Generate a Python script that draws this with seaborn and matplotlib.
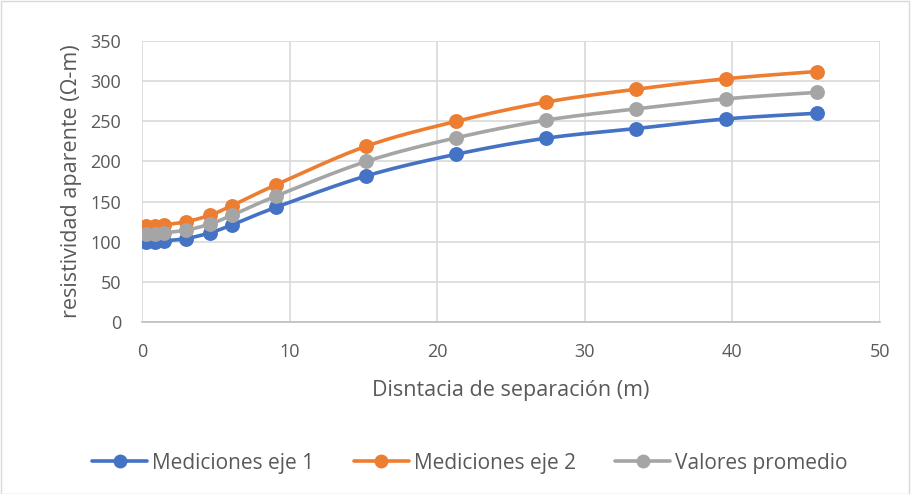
import numpy as np
import pandas as pd
import matplotlib
matplotlib.use("Agg")
import matplotlib.pyplot as plt
from matplotlib.lines import Line2D
import seaborn as sns

distancia = [0.3, 0.9, 1.5, 3.0, 4.6, 6.1, 9.1, 15.2, 21.3, 27.4, 33.5, 39.6, 45.7]
eje1 = [100, 100, 101, 104, 111, 121, 143, 182, 209, 229, 241, 253, 260]
eje2 = [120, 120, 121, 125, 133, 145, 171, 219, 250, 274, 290, 303, 312]
promedio = [110, 110, 111, 114.5, 122, 133, 157, 200, 229.5, 251.5, 265.5, 278, 286]
series_names = ["Mediciones eje 1", "Mediciones eje 2", "Valores promedio"]
colors = ["#4472C4", "#ED7D31", "#A5A5A5"]
x_ticks = [0, 10, 20, 30, 40, 50]
y_ticks = [0, 50, 100, 150, 200, 250, 300, 350]


def smooth(x, y, n=30):
    # Catmull-Rom rendering of the line (like a smoothed line chart)
    x = np.asarray(x, float); y = np.asarray(y, float)
    px = np.concatenate([[x[0]], x, [x[-1]]])
    py = np.concatenate([[y[0]], y, [y[-1]]])
    xs, ys = [], []
    t = np.linspace(0, 1, n)
    for i in range(1, len(px) - 2):
        p0, p1, p2, p3 = [np.array([px[j], py[j]]) for j in (i - 1, i, i + 1, i + 2)]
        m1 = (p2 - p0) * 0.5
        m2 = (p3 - p1) * 0.5
        h00 = 2 * t**3 - 3 * t**2 + 1
        h10 = t**3 - 2 * t**2 + t
        h01 = -2 * t**3 + 3 * t**2
        h11 = t**3 - t**2
        pts = np.outer(h00, p1) + np.outer(h10, m1) + np.outer(h01, p2) + np.outer(h11, m2)
        xs.extend(pts[:, 0]); ys.extend(pts[:, 1])
    return np.array(xs), np.array(ys)


sns.set_theme(style="white")
plt.rcParams["font.family"] = ["Open Sans", "DejaVu Sans"]

fig = plt.figure(figsize=(9.11, 4.94), dpi=100)
ax = fig.add_axes([142 / 911, 1 - 322 / 494, (880 - 142) / 911, (322 - 41) / 494])

handles = []
for name, vals, c in zip(series_names, [eje1, eje2, promedio], colors):
    sx, sy = smooth(distancia, vals)
    sdf = pd.DataFrame({"x": sx, "y": sy})
    sns.lineplot(data=sdf, x="x", y="y", ax=ax, color=c, linewidth=2.6, sort=False,
                 estimator=None, zorder=3)
    df = pd.DataFrame({"x": distancia, "y": vals})
    sns.scatterplot(data=df, x="x", y="y", ax=ax, color=c, s=115, edgecolor=c,
                    linewidth=0, zorder=4)
    handles.append(Line2D([0], [0], color=c, lw=2.6, marker="o", markersize=10,
                          markeredgewidth=0, label=name))

ax.set_xlim(0, 50)
ax.set_ylim(0, 350)
ax.set_xticks(x_ticks)
ax.set_yticks(y_ticks)
ax.grid(True, color="#D9D9D9", linewidth=1.2)
ax.set_axisbelow(True)
for s in ["top", "right", "left"]:
    ax.spines[s].set_visible(False)
ax.spines["bottom"].set_color("#BFBFBF")
ax.spines["bottom"].set_linewidth(1.2)
ax.tick_params(axis="x", colors="#595959", labelsize=13, length=0, pad=15)
ax.tick_params(axis="y", colors="#595959", labelsize=13, length=0, pad=15)
ax.set_xlabel("Disntacia de separación (m)", fontsize=15.5, color="#595959", labelpad=14)
ax.set_ylabel("resistividad aparente (Ω-m)", fontsize=15.5, color="#595959", labelpad=6)

fig.legend(handles=handles, loc="center", bbox_to_anchor=(0.516, 1 - 463 / 494), ncol=3,
           frameon=False, fontsize=15, labelcolor="#595959", handlelength=2.64,
           columnspacing=1.9, handletextpad=0.24)

border = plt.Rectangle((0.001, 0.001), 0.997, 0.997, transform=fig.transFigure,
                       fill=False, edgecolor="#D9D9D9", linewidth=1)
fig.add_artist(border)

fig.savefig("out.png", dpi=100, facecolor="white")
